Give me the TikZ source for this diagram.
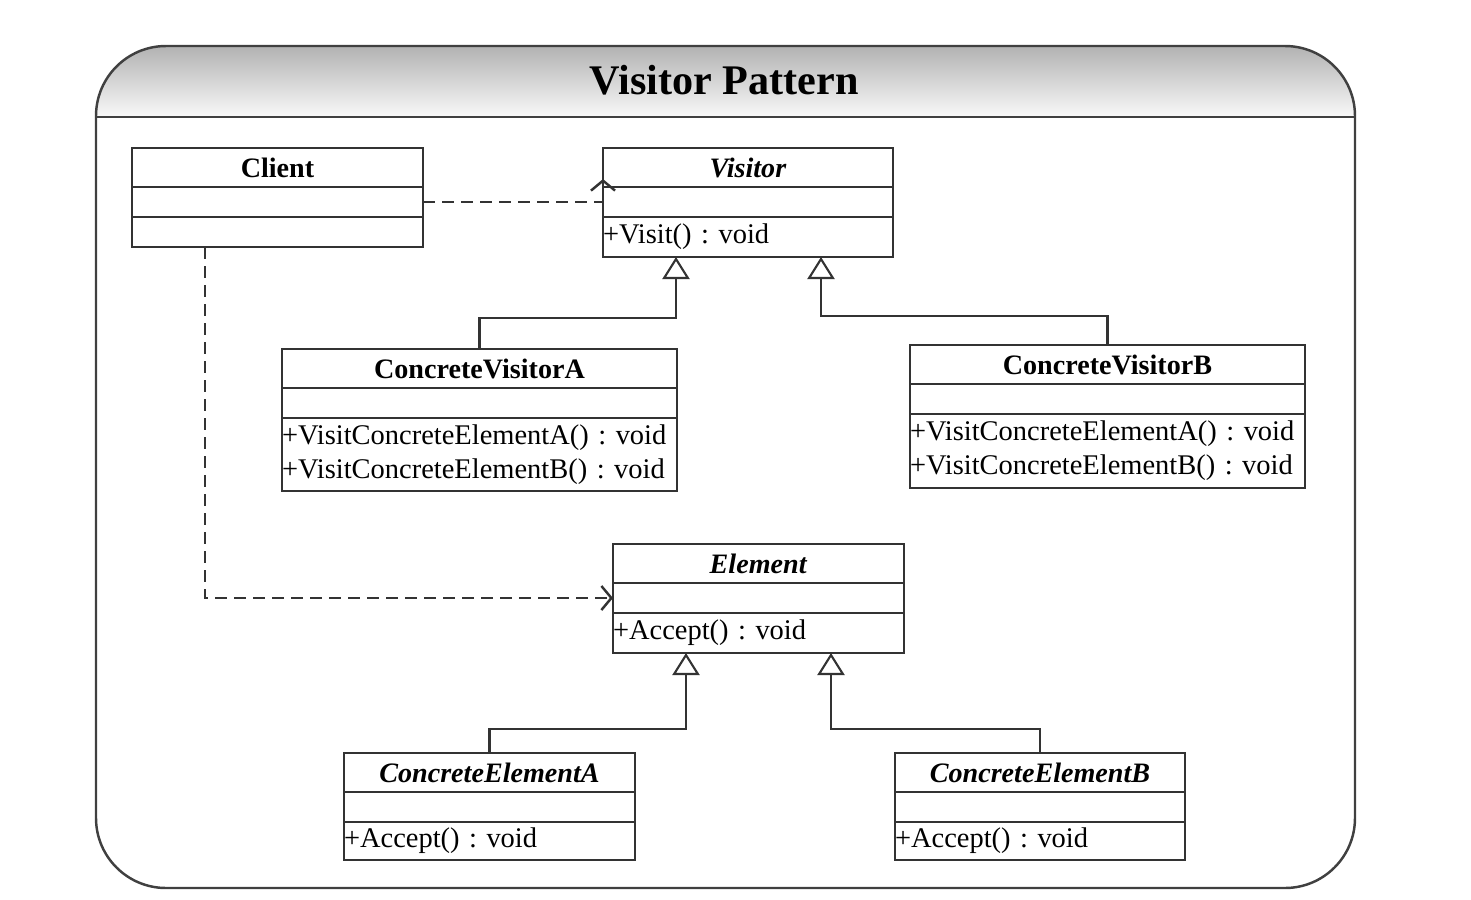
\documentclass[tikz,border=0pt]{standalone}
\usepackage{fontspec}
\setmainfont{Liberation Serif}
\usetikzlibrary{arrows.meta, positioning}
\frenchspacing

\begin{document}
\begin{tikzpicture}[
    line/.style={draw=black!80, line width=0.6pt},
    clsname/.style={line, anchor=north west, minimum height=0.39cm,
                    inner sep=0pt, outer sep=0pt,
                    font=\fontsize{8}{9.6}\selectfont\bfseries},
    clsattr/.style={line, minimum height=0.30cm, inner sep=0pt, outer sep=0pt},
    clsops/.style={line, minimum height=0.40cm, inner xsep=0pt, inner ysep=0pt,
                   outer sep=0pt, align=left,
                   font=\fontsize{8.1}{9.7}\selectfont},
    dep/.style={line, line width=0.7pt, dash pattern=on 0.12cm off 0.07cm,
                -{Straight Barb[length=0.1cm, width=0.24cm]}},
    inherit/.style={line, -{Triangle[open, length=0.22cm, width=0.27cm]}}
  ]
  \useasboundingbox (0,0) rectangle (14.71,-9.00);

  % Frame with shaded title bar
  \begin{scope}
    \clip[rounded corners=0.7cm] (0.96,-0.46) rectangle (13.55,-8.88);
    \shade[top color=gray!60, bottom color=gray!5]
      (0.96,-0.46) rectangle (13.55,-1.17);
  \end{scope}
  \draw[draw=black!75, line width=0.7pt, rounded corners=0.7cm]
    (0.96,-0.46) rectangle (13.55,-8.88);
  \draw[draw=black!75, line width=0.7pt] (0.96,-1.17) -- (13.55,-1.17);
  \node[font=\fontsize{12}{14}\selectfont\bfseries] (title) at (7.24,-0.80)
    {Visitor Pattern};

  % Client
  \node[clsname, minimum width=2.91cm] (client) at (1.32,-1.48) {Client};
  \node[clsattr, minimum width=2.91cm, below=0pt of client] (client-a) {};
  \node[clsattr, minimum width=2.91cm, below=0pt of client-a] (client-o) {};

  % Visitor
  \node[clsname, minimum width=2.90cm] (visitor) at (6.03,-1.48)
    {\textit{Visitor}};
  \node[clsattr, minimum width=2.90cm, below=0pt of visitor] (visitor-a) {};
  \node[clsops, text width=2.90cm, below=0pt of visitor-a] (visitor-o)
    {+Visit() : void};

  % ConcreteVisitorA
  \node[clsname, minimum width=3.95cm] (cva) at (2.82,-3.49)
    {ConcreteVisitorA};
  \node[clsattr, minimum width=3.95cm, below=0pt of cva] (cva-a) {};
  \node[clsops, text width=3.95cm, minimum height=0.73cm,
        below=0pt of cva-a] (cva-o)
    {+VisitConcreteElementA() : void\\+VisitConcreteElementB() : void};

  % ConcreteVisitorB
  \node[clsname, minimum width=3.95cm] (cvb) at (9.10,-3.45)
    {ConcreteVisitorB};
  \node[clsattr, minimum width=3.95cm, below=0pt of cvb] (cvb-a) {};
  \node[clsops, text width=3.95cm, minimum height=0.74cm,
        below=0pt of cvb-a] (cvb-o)
    {+VisitConcreteElementA() : void\\+VisitConcreteElementB() : void};

  % Element
  \node[clsname, minimum width=2.91cm] (element) at (6.13,-5.44)
    {\textit{Element}};
  \node[clsattr, minimum width=2.91cm, below=0pt of element] (element-a) {};
  \node[clsops, text width=2.91cm, below=0pt of element-a] (element-o)
    {+Accept() : void};

  % ConcreteElementA
  \node[clsname, minimum width=2.91cm] (cea) at (3.44,-7.53)
    {\textit{ConcreteElementA}};
  \node[clsattr, minimum width=2.91cm, below=0pt of cea] (cea-a) {};
  \node[clsops, text width=2.91cm, minimum height=0.38cm,
        below=0pt of cea-a] (cea-o) {+Accept() : void};

  % ConcreteElementB
  \node[clsname, minimum width=2.90cm] (ceb) at (8.95,-7.53)
    {\textit{ConcreteElementB}};
  \node[clsattr, minimum width=2.90cm, below=0pt of ceb] (ceb-a) {};
  \node[clsops, text width=2.90cm, minimum height=0.38cm,
        below=0pt of ceb-a] (ceb-o) {+Accept() : void};

  % Dependencies
  \draw[dep] (client-a.east) -- (visitor-a.west)
    -- ([yshift=0.08cm]visitor-a.north west);
  \draw[dep] ([xshift=0.73cm]client-o.south west) |- (element-a.west);

  % Generalisations
  \draw[inherit] (cva.north) -- ++(0,0.31)
    -| ([xshift=0.73cm]visitor-o.south west);
  \draw[inherit] (cvb.north) -- ++(0,0.29)
    -| ([xshift=-0.72cm]visitor-o.south east);
  \draw[inherit] (cea.north) -- ++(0,0.24)
    -| ([xshift=0.73cm]element-o.south west);
  \draw[inherit] (ceb.north) -- ++(0,0.24)
    -| ([xshift=-0.73cm]element-o.south east);
\end{tikzpicture}
\end{document}
